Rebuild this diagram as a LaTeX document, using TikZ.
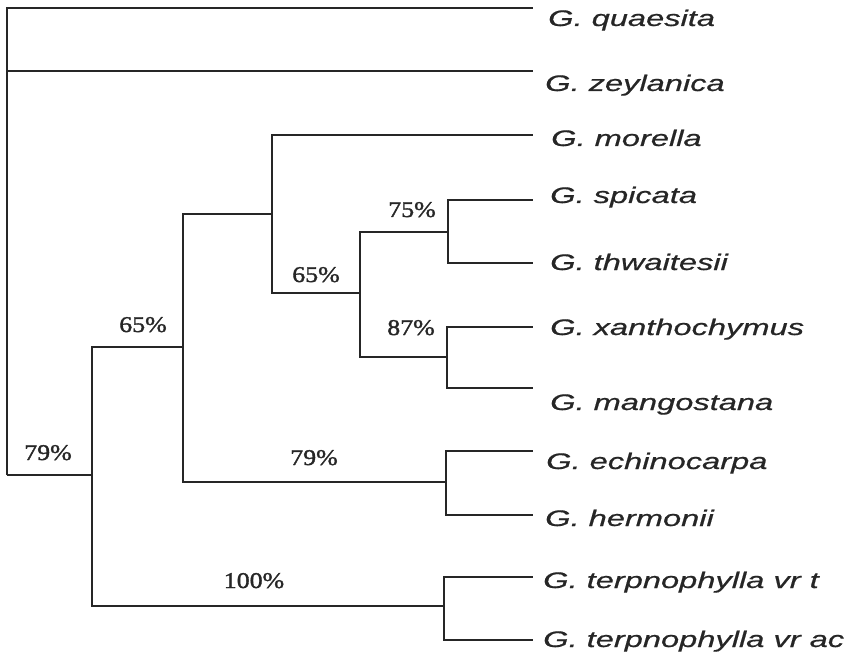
\documentclass[tikz,border=0pt]{standalone}
\usepackage{fontspec}
\newfontfamily\leaffont[FakeStretch=1.45,FakeBold=0.6]{Liberation Sans Italic}
\newfontfamily\pctfont[FakeStretch=1.15,FakeBold=1.6]{Liberation Serif}
\definecolor{ink}{HTML}{262626}
\begin{document}
\begin{tikzpicture}[x=1pt,y=-1pt,
  branch/.style={draw=ink,line width=1.5pt},
  leaf/.style={anchor=base west,inner sep=0pt,text=ink,font=\leaffont\fontsize{22.5}{24}\selectfont},
  pct/.style={anchor=base,inner sep=0pt,text=ink,font=\pctfont\fontsize{22.5}{24}\selectfont}]
\useasboundingbox (0,0) rectangle (857,663);
% leaf line ends
\coordinate (eq) at (533,8);
\coordinate (ez) at (533,71);
\coordinate (emo) at (533,135);
\coordinate (esp) at (533,200);
\coordinate (eth) at (533,263);
\coordinate (exa) at (533,327);
\coordinate (ema) at (533,388);
\coordinate (eec) at (533,451);
\coordinate (ehe) at (533,515);
\coordinate (et1) at (533,577);
\coordinate (et2) at (533,640);
% internal nodes
\coordinate (root) at (7,475);
\coordinate (n8) at (92,475);
\coordinate (n6) at (183,347);
\coordinate (n7) at (444,606);
\coordinate (n4) at (272,214);
\coordinate (n5) at (446,482);
\coordinate (n3) at (360,293);
\coordinate (n1) at (448,232);
\coordinate (n2) at (447,357);
% branches
\draw[branch] (root) |- (eq);
\draw[branch] (root) |- (ez);
\draw[branch] (root) -- (n8);
\draw[branch] (n8) |- (n6);
\draw[branch] (n8) |- (n7);
\draw[branch] (n6) |- (n4);
\draw[branch] (n6) |- (n5);
\draw[branch] (n4) |- (emo);
\draw[branch] (n4) |- (n3);
\draw[branch] (n3) |- (n1);
\draw[branch] (n3) |- (n2);
\draw[branch] (n1) |- (esp);
\draw[branch] (n1) |- (eth);
\draw[branch] (n2) |- (exa);
\draw[branch] (n2) |- (ema);
\draw[branch] (n5) |- (eec);
\draw[branch] (n5) |- (ehe);
\draw[branch] (n7) |- (et1);
\draw[branch] (n7) |- (et2);
% leaf labels
\node[leaf] (lq) at (548,26) {G. quaesita};
\node[leaf] (lz) at (545,91) {G. zeylanica};
\node[leaf] (lmo) at (551,146) {G. morella};
\node[leaf] (lsp) at (550,203) {G. spicata};
\node[leaf] (lth) at (550,270) {G. thwaitesii};
\node[leaf] (lxa) at (550,335) {G. xanthochymus};
\node[leaf] (lma) at (550,410) {G. mangostana};
\node[leaf] (lec) at (546,469) {G. echinocarpa};
\node[leaf] (lhe) at (545,526) {G. hermonii};
\node[leaf] (lt1) at (543,588) {G. terpnophylla vr t};
\node[leaf] (lt2) at (543,647) {G. terpnophylla vr ac};
% support values
\node[pct] (p8) at (48,460) {79\%};
\node[pct] (p6) at (143,332) {65\%};
\node[pct] (p3) at (316,282) {65\%};
\node[pct] (p1) at (412,217) {75\%};
\node[pct] (p2) at (411,335) {87\%};
\node[pct] (p5) at (314,465) {79\%};
\node[pct] (p7) at (254,588) {100\%};
\end{tikzpicture}
\end{document}
